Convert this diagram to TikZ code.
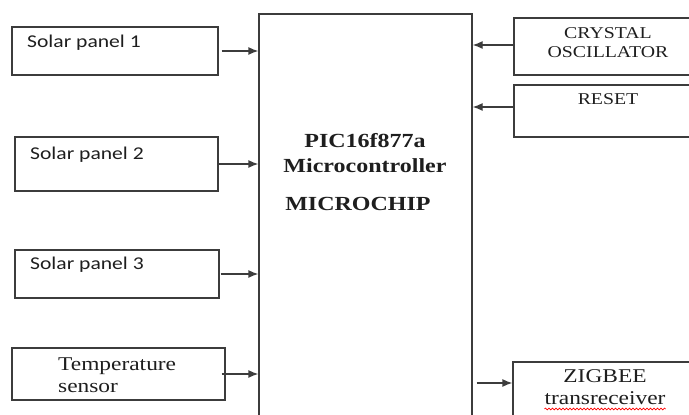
\documentclass[tikz,border=0pt]{standalone}
\usepackage{fontspec}
\setmainfont[FakeStretch=1.2]{Liberation Serif}
\newfontfamily\panelfont[FakeStretch=1.2]{Carlito}
\usetikzlibrary{arrows.meta,decorations.pathmorphing}
\definecolor{linegray}{HTML}{3C3C3C}
\definecolor{textdark}{HTML}{1E1E1E}
\begin{document}
\begin{tikzpicture}[x=1pt,y=1pt,
    blockbox/.style={draw=linegray, line width=1.3pt, inner sep=0pt},
    feed/.style={-{Latex[length=10pt,width=8pt]}, draw=linegray, line width=1.3pt},
    paneltext/.style={anchor=base west, inner sep=0pt, text=textdark, font=\panelfont\fontsize{18}{22}\selectfont},
    serifsmall/.style={anchor=base, inner sep=0pt, text=textdark, font=\fontsize{16.5}{19}\selectfont},
    serifmid/.style={anchor=base, inner sep=0pt, text=textdark, font=\fontsize{19.5}{22}\selectfont},
    chiptext/.style={anchor=base, inner sep=0pt, text=textdark, font=\bfseries\fontsize{20}{24}\selectfont}]
    \clip (0,0) rectangle (689,415);
    % Microcontroller block
    \node[blockbox, minimum width=213pt, minimum height=421pt] (mcu) at (365.5,190.5) {};
    \node[chiptext] (mcuname) at (365,267) {PIC16f877a};
    \node[chiptext] (mcutype) at (365,242) {Microcontroller};
    \node[chiptext] (mcumaker) at (358,204) {MICROCHIP};
    % Inputs on the left
    \node[blockbox, minimum width=206pt, minimum height=48pt] (sp1) at (115,364) {};
    \node[paneltext] (sp1text) at (27,367) {Solar panel 1};
    \node[blockbox, minimum width=203pt, minimum height=54pt] (sp2) at (116.5,251) {};
    \node[paneltext] (sp2text) at (30,255) {Solar panel 2};
    \node[blockbox, minimum width=204pt, minimum height=48pt] (sp3) at (117,141) {};
    \node[paneltext] (sp3text) at (30,145) {Solar panel 3};
    \node[blockbox, minimum width=213pt, minimum height=52pt] (temp) at (118.5,41) {};
    \node[serifmid, anchor=base west] (temptop) at (58,44) {Temperature};
    \node[serifmid, anchor=base west] (tempbot) at (58,22) {sensor};
    % Blocks on the right
    \node[blockbox, minimum width=181pt, minimum height=57pt] (xtal) at (604.5,368.5) {};
    \node[serifsmall] (xtaltop) at (608,376) {CRYSTAL};
    \node[serifsmall] (xtalbot) at (608,357) {OSCILLATOR};
    \node[blockbox, minimum width=181pt, minimum height=52pt] (reset) at (604.5,304) {};
    \node[serifsmall] (resettext) at (608,310) {RESET};
    \node[blockbox, minimum width=182pt, minimum height=68pt] (zig) at (604,19) {};
    \node[serifmid] (zigtop) at (605,32) {ZIGBEE};
    \node[serifmid] (zigbot) at (605,10) {transreceiver};
    \draw[red, line width=0.6pt, decorate, decoration={snake, amplitude=0.9pt, segment length=3.5pt}]
        ([yshift=-4pt]zigbot.base west) -- ([yshift=-4pt]zigbot.base east);
    % Connections
    \draw[feed] ([xshift=3pt]sp1.east) -- (sp1.east -| mcu.west);
    \draw[feed] (sp2.east) -- (sp2.east -| mcu.west);
    \draw[feed] ([xshift=1pt]sp3.east) -- (sp3.east -| mcu.west);
    \draw[feed] ([xshift=-4pt]temp.east) -- (temp.east -| mcu.west);
    \draw[feed] ([yshift=1.5pt]xtal.west) -- ([yshift=1.5pt]xtal.west -| mcu.east);
    \draw[feed] ([yshift=4pt]reset.west) -- ([yshift=4pt]reset.west -| mcu.east);
    \coordinate (zigin) at ([yshift=13pt]zig.west);
    \draw[feed] ([xshift=4pt]zigin -| mcu.east) -- (zigin);
\end{tikzpicture}
\end{document}
